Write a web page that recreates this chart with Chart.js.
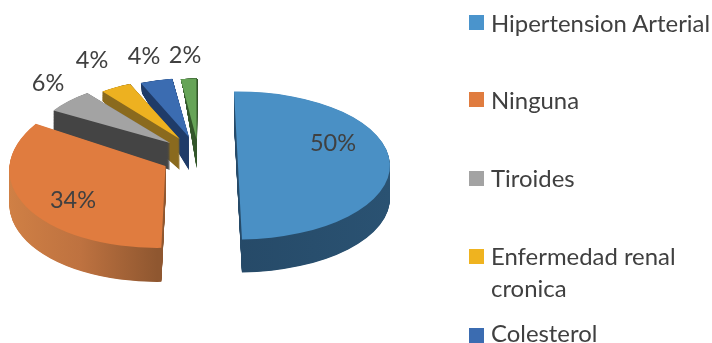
<!DOCTYPE html>
<html lang="es">
<head>
<meta charset="UTF-8">
<title>Enfermedades</title>
<script src="https://cdn.jsdelivr.net/npm/chart.js"></script>
<style>
  html, body { margin: 0; background: #fff; }
  #wrap { position: relative; width: 712px; height: 343px; overflow: hidden; filter: blur(0.5px); }
  .sw { position: absolute; left: 469px; width: 15px; height: 15px; }
  .lb { position: absolute; left: 491px; font: 23.9px/32px Lato, sans-serif; color: #404040; white-space: nowrap; }
</style>
</head>
<body>
<div id="wrap"><canvas id="grafico" width="712" height="343"></canvas></div>

<script>
// datos (la ultima categoria queda fuera del recorte, sin nombre visible)
const categorias = ['Hipertension Arterial', 'Ninguna', 'Tiroides', 'Enfermedad renal cronica', 'Colesterol', ''];
const valores = [50, 34, 6, 4, 4, 2];

// estilo
const colores = ['#4A90C5', '#E07C3F', '#A3A3A3', '#EDB120', '#3B6CB1', '#66A457'];
const coloresLeyenda = ['#4A94CC', '#E07C3F', '#A3A3A3', '#EFB31F', '#3B6CB1'];
const lateral = [
    ['#2E5B80', '#2E5B80', '#264A68', '#2A5272'],
    ['#D08045', '#BE7240', '#8F5730', '#8F5730'],
    ['#444444', '#444444', '#444444', '#444444'],
    ['#8A6A1E', '#8A6A1E', '#8A6A1E', '#8A6A1E'],
    ['#1F3B68', '#1F3B68', '#1F3B68', '#1F3B68'],
    ['#33562A', '#33562A', '#33562A', '#33562A']
];

// pastel 3D: el centro, cuanto se separa cada porcion y su perspectiva
const centroX = 200, centroY = 156, inclinacion = 0.49;
const separacion = [38, 40, 40, 40, 40, 38];
const bajada = [10, 0, 0, 0, 0, 2];
const radioX = [152, 156, 136, 127, 130, 125];
const radioY = [74, 82, 63, 60, 59, 61];
const sesgo = [0, -0.1, 0, 0, -0.05, -0.05];
const grosor = [33, 34, 27, 31, 33, 29];
const estirado = [0, 0, 0.21, 0.45, 0.42, 0.45];
const ordenDibujo = [5, 4, 3, 2, 1, 0];
const posEtiquetas = [[333, 143], [73, 200], [48, 83], [92, 60], [144, 56], [185, 55]];

// leyenda
const cuadroY = [22.5, 99.5, 178, 256, 335];
const textoY = [22.5, 99.5, 178, 255.5, 332.5];
const wrap = document.getElementById('wrap');
categorias.slice(0, 5).forEach((nombre, i) => {
    const sw = document.createElement('div');
    sw.className = 'sw';
    sw.style.top = (cuadroY[i] - 7.5) + 'px';
    sw.style.background = coloresLeyenda[i];
    wrap.appendChild(sw);
    const lb = document.createElement('div');
    lb.className = 'lb';
    lb.style.top = (textoY[i] - 16) + 'px';
    lb.innerHTML = nombre.replace('renal cronica', 'renal<br>cronica');
    wrap.appendChild(lb);
});

function dibujarPorcion(ctx, arco, i, t, relleno) {
    const mitad = (arco.startAngle + arco.endAngle) / 2;
    const x = centroX + Math.cos(mitad) * separacion[i];
    const y = centroY + Math.sin(mitad) * separacion[i] * inclinacion + bajada[i];
    const sx = radioX[i] / arco.outerRadius;
    const sy = radioY[i] * (1 + estirado[i] * t) / arco.outerRadius;
    const copia = Object.create(arco);
    copia.options = { ...arco.options, backgroundColor: relleno };
    ctx.save();
    ctx.translate(x, y + grosor[i] * t);
    ctx.transform(sx, 0, sesgo[i] * sy, sy, 0, 0);
    ctx.translate(-arco.x, -arco.y);
    copia.draw(ctx);
    ctx.restore();
}

const pastel3d = {
    id: 'pastel3d',
    beforeDatasetsDraw(chart) {
        const ctx = chart.ctx;
        const arcos = chart.getDatasetMeta(0).data;
        ordenDibujo.forEach(i => {
            const arco = arcos[i];
            const r = arco.outerRadius;
            const grad = ctx.createLinearGradient(arco.x - r, 0, arco.x + r, 0);
            [0, 0.25, 0.5, 1].forEach((p, n) => grad.addColorStop(p, lateral[i][n]));
            for (let d = grosor[i] * 2; d >= 1; d--) {
                dibujarPorcion(ctx, arco, i, d / (grosor[i] * 2), grad);
            }
            dibujarPorcion(ctx, arco, i, 0, colores[i]);
        });
        ctx.save();
        ctx.font = '23.5px Lato, sans-serif';
        ctx.fillStyle = '#404040';
        ctx.textAlign = 'center';
        ctx.textBaseline = 'middle';
        valores.forEach((v, i) => ctx.fillText(v + '%', posEtiquetas[i][0], posEtiquetas[i][1]));
        ctx.restore();
        return false;
    }
};

new Chart(document.getElementById('grafico'), {
    type: 'pie',
    data: {
        labels: categorias,
        datasets: [{ data: valores, backgroundColor: colores, borderWidth: 0 }]
    },
    options: {
        responsive: false,
        animation: false,
        rotation: -1.5,
        plugins: { legend: { display: false }, tooltip: { enabled: false } }
    },
    plugins: [pastel3d]
});
</script>
</body>
</html>
